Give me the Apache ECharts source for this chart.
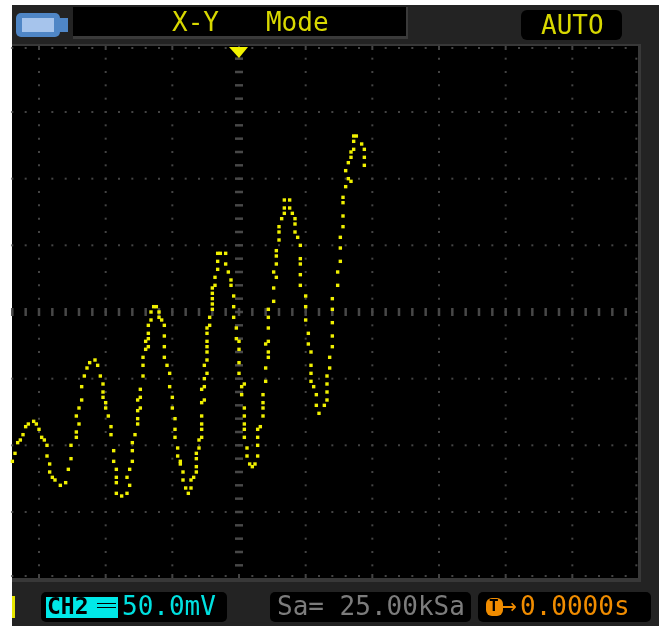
<!DOCTYPE html>
<html>
<head>
<meta charset="utf-8">
<style>
  html, body { margin: 0; padding: 0; background: #fff; }
  #main { width: 664px; height: 626px; filter: blur(0.6px); }
</style>
<script src="https://cdn.jsdelivr.net/npm/echarts@6/dist/echarts.min.js"></script>
</head>
<body>
<div id="main"></div>
<script>
// trace, both channels in mV (50 mV per division)
var traceX = [-170,-168,-166,-164,-162,-160,-158,-154,-152,-150,-148,-146,-144,-144,-142,-142,-140,-138,-134,-130,-128,-126,-126,-122,-122,-120,-122,-120,-118,-118,-116,-114,-112,-108,-106,-104,-102,-102,-102,-100,-100,-98,-96,-96,-94,-94,-92,-92,-92,-92,-88,-84,-82,-84,-82,-80,-80,-80,-78,-76,-76,-76,-74,-76,-74,-74,-72,-72,-72,-70,-68,-70,-68,-68,-68,-66,-66,-64,-62,-60,-60,-58,-56,-56,-56,-56,-54,-52,-52,-50,-50,-48,-48,-48,-46,-46,-44,-44,-42,-42,-40,-38,-36,-36,-34,-32,-32,-32,-32,-30,-30,-28,-28,-28,-28,-28,-26,-28,-26,-26,-24,-26,-24,-24,-24,-24,-24,-24,-22,-22,-20,-20,-20,-20,-20,-18,-18,-16,-16,-16,-14,-10,-10,-8,-6,-6,-4,-4,-4,-2,-2,0,0,0,0,4,2,2,4,4,4,4,4,6,6,8,10,12,14,14,14,14,16,18,18,18,18,20,20,22,22,20,22,22,22,22,26,26,28,26,28,28,28,30,30,30,32,34,34,34,38,38,40,42,42,42,44,46,46,46,46,46,50,50,50,52,52,54,54,54,54,56,58,58,60,64,66,66,66,66,68,68,70,70,70,70,70,74,74,76,76,76,78,78,78,78,80,84,82,80,82,84,84,86,86,86,88,92,94,94,94];
var traceY = [-112,-106,-98,-96,-92,-86,-84,-82,-84,-88,-94,-96,-100,-108,-114,-120,-124,-126,-130,-128,-118,-110,-100,-94,-90,-84,-78,-72,-66,-56,-48,-42,-38,-36,-40,-48,-54,-60,-64,-68,-72,-78,-86,-92,-104,-112,-118,-124,-128,-136,-138,-136,-130,-124,-118,-112,-104,-98,-92,-84,-80,-74,-72,-66,-64,-58,-48,-40,-34,-28,-26,-22,-20,-16,-10,-6,0,4,4,0,-4,-6,-10,-18,-26,-34,-40,-46,-56,-64,-72,-80,-88,-94,-102,-108,-112,-114,-120,-126,-132,-136,-132,-126,-124,-120,-116,-110,-106,-102,-96,-94,-88,-84,-78,-68,-66,-58,-56,-50,-46,-40,-36,-30,-26,-22,-16,-12,-10,-4,2,6,10,14,18,20,26,32,38,44,44,44,36,30,24,20,12,4,-4,-12,-20,-22,-28,-38,-46,-54,-56,-62,-72,-78,-84,-88,-94,-102,-108,-114,-116,-114,-108,-100,-94,-88,-86,-78,-72,-68,-62,-52,-42,-34,-30,-24,-22,-12,-4,2,8,18,26,30,36,42,46,54,60,64,70,74,78,84,84,78,74,70,66,60,56,50,40,36,28,20,12,4,-6,-16,-24,-30,-40,-46,-52,-56,-62,-70,-76,-70,-66,-60,-54,-48,-42,-34,-26,-18,-8,2,10,20,30,38,48,56,64,72,82,86,94,98,100,106,112,116,120,122,128,132,132,126,122,116,110];

var divX = [-150,-100,-50,0,50,100,150,200,250];
var divY = [-150,-100,-50,0,50,100,150];
var xMin = -170.25, xMax = 299.25, yMin = -199.5, yMax = 199.5;

var traceColor = '#f0f000';
var gridColor = '#444444';
var dots = [], dashH = [], dashV = [], edgeShort = [], edgeLong = [];
var i, v;

// graticule: one dot every 10 mV along each division line
for (i = 0; i < divY.length; i++) {
  for (v = -170; v <= 290; v += 10) {
    if (divY[i] === 0) dashV.push([v, 0]);
    else dots.push([v, divY[i]]);
  }
}
for (i = 0; i < divX.length; i++) {
  for (v = -190; v <= 190; v += 10) {
    if (divX[i] === 0) dashH.push([0, v]);
    else dots.push([divX[i], v]);
  }
}
// ticks along the frame
for (v = -170; v <= 290; v += 10) {
  var tgt = (v % 50 === 0) ? edgeLong : edgeShort;
  tgt.push([v, 198]);
  tgt.push([v, -198]);
}
for (v = -190; v <= 190; v += 10) {
  dots.push([298, v]);
}

var mono = '"DejaVu Sans Mono", monospace';
var chart = echarts.init(document.getElementById('main'), null, { renderer: 'canvas' });

function box(x, y, w, h, fill, r, z) {
  return { type: 'rect', z: z || 1, shape: { x: x, y: y, width: w, height: h, r: r || 0 }, style: { fill: fill } };
}
function label(txt, x, y, fill, size, weight) {
  return { type: 'text', z: 3, style: { text: txt, x: x, y: y, fill: fill, textVerticalAlign: 'middle', font: (weight || 'normal') + ' ' + size + 'px ' + mono } };
}

chart.setOption({
  animation: false,
  backgroundColor: '#ffffff',
  grid: { left: 12, top: 46, width: 626, height: 532 },
  xAxis: { type: 'value', min: xMin, max: xMax, show: false },
  yAxis: { type: 'value', min: yMin, max: yMax, show: false },
  graphic: [
    // bezel
    box(12, 5, 647, 621, '#232323', 0, 0),
    box(12, 46, 626, 532, '#000000', 0, 0),
    // frame
    box(12, 44, 628, 2, '#383838', 0, 1),
    box(638, 44, 3, 538, '#383838', 0, 1),
    box(12, 578, 629, 4, '#383838', 0, 1),
    // battery
    box(16, 13, 44, 24, '#4f86c6', 5, 1),
    box(60, 18, 8, 14, '#4f86c6', 0, 1),
    box(22, 18, 32, 14, '#a6c4ec', 0, 2),
    // top title
    box(73, 7, 335, 32, '#3a3a3a', 0, 1),
    box(73, 7, 333, 29, '#000000', 0, 2),
    label('X-Y   Mode', 172, 24, '#d8d800', 26),
    box(521, 10, 101, 30, '#000000', 6, 1),
    label('AUTO', 541, 27, '#d8d800', 26),
    // bottom row
    box(12, 596, 3, 22, '#e6e600', 0, 1),
    box(41, 592, 186, 30, '#000000', 5, 1),
    box(46, 597, 72, 21, '#00e8e8', 0, 2),
    label('CH2', 47, 608, '#000000', 23, 'bold'),
    box(97, 603, 19, 1, '#000000', 0, 3),
    box(97, 607, 19, 1, '#000000', 0, 3),
    label('50.0mV', 122, 608, '#00e0e0', 26),
    box(270, 592, 201, 30, '#000000', 5, 1),
    label('Sa= 25.00kSa', 277, 608, '#7c7c7c', 26),
    box(478, 592, 173, 30, '#000000', 5, 1),
    box(486, 598, 17, 18, '#f08c00', 6, 2),
    label('T', 489, 607, '#000000', 16, 'bold'),
    label('\u2192', 501, 607, '#f08c00', 26),
    label('0.0000s', 520, 608, '#f08c00', 26),
    // trigger marker
    { type: 'polygon', z: 10, shape: { points: [[229, 47], [248, 47], [239, 58]] }, style: { fill: '#f2f200' } }
  ],
  series: [
    { type: 'scatter', silent: true, z: 2, symbol: 'rect', symbolSize: 2, itemStyle: { color: gridColor, opacity: 1 }, data: dots },
    { type: 'scatter', silent: true, z: 2, symbol: 'rect', symbolSize: [8, 2.5], itemStyle: { color: '#484848', opacity: 1 }, data: dashH },
    { type: 'scatter', silent: true, z: 2, symbol: 'rect', symbolSize: [2.5, 8], itemStyle: { color: '#484848', opacity: 1 }, data: dashV },
    { type: 'scatter', silent: true, z: 2, symbol: 'rect', symbolSize: [2, 2], itemStyle: { color: gridColor, opacity: 1 }, data: edgeShort },
    { type: 'scatter', silent: true, z: 2, symbol: 'rect', symbolSize: [2, 4], itemStyle: { color: gridColor, opacity: 1 }, data: edgeLong },
    {
      type: 'scatter', z: 5, symbol: 'rect', symbolSize: 3.4,
      itemStyle: { color: traceColor, opacity: 1 },
      data: traceX.map(function (x, k) { return [x, traceY[k]]; })
    }
  ]
});
</script>
</body>
</html>
